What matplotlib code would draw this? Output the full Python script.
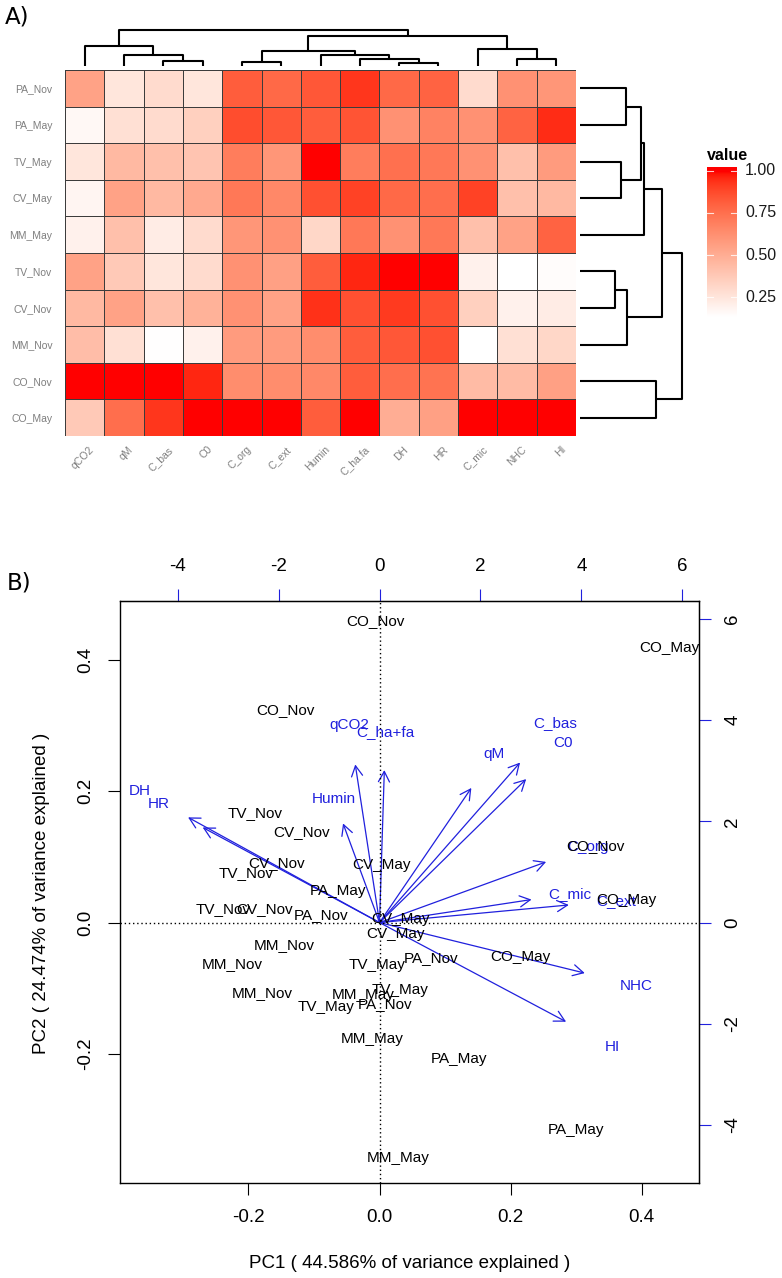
import numpy as np
import matplotlib
matplotlib.use('Agg')
from matplotlib import pyplot as plt
from matplotlib.colors import ListedColormap, Normalize
from matplotlib.patches import FancyArrowPatch
from matplotlib.transforms import offset_copy, blended_transform_factory

# ---------------- A) heatmap data ----------------
heat_rows = ['PA_Nov', 'PA_May', 'TV_May', 'CV_May', 'MM_May',
             'TV_Nov', 'CV_Nov', 'MM_Nov', 'CO_Nov', 'CO_May']
heat_cols = ['qCO2', 'qM', 'C_bas', 'C0', 'C_org', 'C_ext', 'Humin',
             'C_ha.fa', 'DH', 'HR', 'C_mic', 'NHC', 'HI']
heat_values = [
    [0.55, 0.25, 0.30, 0.25, 0.82, 0.78, 0.84, 0.93, 0.78, 0.80, 0.30, 0.62, 0.60],
    [0.17, 0.28, 0.30, 0.35, 0.87, 0.84, 0.82, 0.85, 0.62, 0.68, 0.62, 0.80, 0.95],
    [0.25, 0.45, 0.42, 0.40, 0.70, 0.60, 1.00, 0.70, 0.75, 0.72, 0.62, 0.42, 0.58],
    [0.18, 0.55, 0.45, 0.52, 0.72, 0.66, 0.86, 0.90, 0.78, 0.76, 0.90, 0.42, 0.45],
    [0.20, 0.42, 0.22, 0.30, 0.60, 0.62, 0.32, 0.72, 0.62, 0.72, 0.42, 0.55, 0.80],
    [0.55, 0.38, 0.25, 0.30, 0.62, 0.56, 0.82, 0.96, 1.00, 1.00, 0.20, 0.135, 0.15],
    [0.45, 0.55, 0.42, 0.48, 0.62, 0.55, 0.94, 0.86, 0.92, 0.86, 0.35, 0.20, 0.22],
    [0.43, 0.28, 0.14, 0.20, 0.58, 0.58, 0.64, 0.82, 0.84, 0.86, 0.135, 0.28, 0.32],
    [1.00, 1.00, 1.00, 0.96, 0.64, 0.64, 0.66, 0.82, 0.76, 0.74, 0.44, 0.44, 0.56],
    [0.38, 0.76, 0.93, 1.00, 1.00, 1.00, 0.82, 1.00, 0.50, 0.56, 1.00, 1.00, 1.00],
]
cbar_ticks = [0.25, 0.50, 0.75, 1.00]

# dendrograms: (left, right, height); ints refer to earlier merges
col_merges = [
    ('C_bas', 'C0', 0.50),
    ('qM', 0, 1.10),
    ('qCO2', 1, 2.00),
    ('DH', 'HR', 0.33),
    ('C_ha.fa', 3, 0.75),
    ('Humin', 4, 1.10),
    ('C_org', 'C_ext', 0.43),
    (6, 5, 1.53),
    ('NHC', 'HI', 0.67),
    ('C_mic', 8, 1.67),
    (7, 9, 3.00),
    (2, 10, 3.60),
]
row_merges = [
    ('PA_Nov', 'PA_May', 4.60),
    ('TV_May', 'CV_May', 4.13),
    (0, 1, 6.10),
    (2, 'MM_May', 6.37),
    ('TV_Nov', 'CV_Nov', 3.53),
    (4, 'MM_Nov', 4.73),
    (3, 5, 8.17),
    ('CO_Nov', 'CO_May', 7.60),
    (6, 7, 10.20),
]

# ---------------- B) PCA biplot data ----------------
obs_labels = ['CO_Nov', 'CO_Nov', 'CO_Nov', 'CO_May', 'CO_May', 'CO_May',
              'TV_Nov', 'TV_Nov', 'TV_Nov', 'CV_Nov', 'CV_Nov', 'CV_Nov',
              'CV_May', 'CV_May', 'CV_May', 'PA_May', 'PA_May', 'PA_May',
              'PA_Nov', 'PA_Nov', 'PA_Nov', 'MM_Nov', 'MM_Nov', 'MM_Nov',
              'MM_May', 'MM_May', 'MM_May', 'TV_May', 'TV_May', 'TV_May']
obs_pc1 = [-0.007, -0.144, 0.330, 0.442, 0.376, 0.215,
           -0.190, -0.204, -0.238, -0.119, -0.157, -0.176,
           0.003, 0.032, 0.025, -0.063, 0.122, 0.300,
           -0.089, 0.078, 0.008, -0.145, -0.224, -0.179,
           -0.025, -0.011, 0.029, -0.004, 0.031, -0.082]
obs_pc2 = [0.458, 0.323, 0.117, 0.417, 0.034, -0.052,
           0.166, 0.076, 0.021, 0.137, 0.090, 0.021,
           0.087, 0.006, -0.018, 0.048, -0.207, -0.315,
           0.012, -0.054, -0.124, -0.034, -0.063, -0.107,
           -0.110, -0.177, -0.358, -0.064, -0.102, -0.128]

var_labels = ['DH', 'HR', 'qCO2', 'C_ha+fa', 'Humin', 'qM', 'C_bas',
              'C0', 'C_org', 'C_mic', 'C_ext', 'NHC', 'HI']
var_pc1 = [-4.743, -4.381, -0.601, 0.119, -0.904, 2.275, 3.482,
           3.633, 4.127, 3.765, 4.689, 5.085, 4.622]
var_pc2 = [2.598, 2.349, 3.904, 3.765, 2.448, 3.324, 3.951,
           3.542, 1.498, 0.568, 0.435, -1.247, -2.448]

pc1_var = 44.586
pc2_var = 24.474
var_scale = 12.99   # top/right axis units per bottom/left unit

W, H = 782, 1278
plt.rcParams['font.family'] = ['Liberation Sans', 'DejaVu Sans']
plt.rcParams['axes.unicode_minus'] = False
fig = plt.figure(figsize=(W / 100, H / 100), dpi=100)


def px_axes(left, top, right, bottom):
    return fig.add_axes([left / W, 1 - bottom / H, (right - left) / W, (bottom - top) / H])


def lab_gradient(c0, c1, n=256):
    # interpolate two sRGB colours in CIELAB like ggplot does
    white = np.array([0.95047, 1.0, 1.08883])
    M = np.array([[0.4124, 0.3576, 0.1805], [0.2126, 0.7152, 0.0722], [0.0193, 0.1192, 0.9505]])

    def to_lab(c):
        c = np.asarray(c, float)
        lin = np.where(c <= 0.04045, c / 12.92, ((c + 0.055) / 1.055) ** 2.4)
        t = (M @ lin) / white
        f = np.where(t > (6 / 29) ** 3, np.cbrt(t), t / (3 * (6 / 29) ** 2) + 4 / 29)
        return np.array([116 * f[1] - 16, 500 * (f[0] - f[1]), 200 * (f[1] - f[2])])

    def to_rgb(lab):
        fy = (lab[0] + 16) / 116
        f = np.array([fy + lab[1] / 500, fy, fy - lab[2] / 200])
        t = np.where(f > 6 / 29, f ** 3, 3 * (6 / 29) ** 2 * (f - 4 / 29)) * white
        lin = np.linalg.solve(M, t)
        c = np.where(lin <= 0.0031308, 12.92 * lin, 1.055 * np.clip(lin, 0, None) ** (1 / 2.4) - 0.055)
        return np.clip(c, 0, 1)

    a, b = to_lab(c0), to_lab(c1)
    return ListedColormap([to_rgb(a + (b - a) * s) for s in np.linspace(0, 1, n)])


def dendro_coords(leaves, merges):
    pos = {name: (i + 0.5, 0.0) for i, name in enumerate(leaves)}
    segs = []
    for k, (a, b, h) in enumerate(merges):
        xa, ha = pos[a]
        xb, hb = pos[b]
        segs.append(([xa, xa, xb, xb], [ha, h, h, hb]))
        pos[k] = ((xa + xb) / 2, h)
    return segs


# ---------------- A) ----------------
vals = np.array(heat_values)
cmap = lab_gradient((1, 1, 1), (1, 0, 0))
norm = Normalize(vmin=vals.min(), vmax=vals.max())
grey = '#7f7f7f'

ax = px_axes(65, 70, 576, 436)
ax.pcolormesh(np.arange(len(heat_cols) + 1), np.arange(len(heat_rows) + 1), vals,
              cmap=cmap, norm=norm, edgecolors='#3c3c3c', linewidth=0.4)
ax.set_xlim(0, len(heat_cols))
ax.set_ylim(len(heat_rows), 0)
for s in ax.spines.values():
    s.set_visible(False)
ax.set_yticks(np.arange(len(heat_rows)) + 0.5)
ax.set_yticklabels(heat_rows, fontsize=7.5, color=grey)
ax.tick_params(axis='y', length=0, pad=9)
ax.set_xticks([])
lab_tr = offset_copy(ax.transData, fig=fig, x=3, y=-6, units='points')
for i, c in enumerate(heat_cols):
    ax.text(i + 0.5, len(heat_rows), c, transform=lab_tr, rotation=45, rotation_mode='anchor',
            ha='right', va='top', fontsize=7.5, color=grey)

axc = px_axes(65, 30, 576, 66)
for xs, ys in dendro_coords(heat_cols, col_merges):
    axc.plot(xs, ys, color='black', lw=1.5, clip_on=False, solid_capstyle='butt')
axc.set_xlim(0, len(heat_cols))
axc.set_ylim(0, col_merges[-1][2])
axc.axis('off')

axr = px_axes(580, 70, 682, 436)
for xs, ys in dendro_coords(heat_rows, row_merges):
    axr.plot(ys, xs, color='black', lw=1.5, clip_on=False, solid_capstyle='butt')
axr.set_ylim(len(heat_rows), 0)
axr.set_xlim(0, row_merges[-1][2])
axr.axis('off')

# colour bar
lo, hi = vals.min(), 1.024
cax = px_axes(707, 166.7, 737, 316.7)
grad = np.linspace(lo, hi, 300)[:, None]
cax.imshow(grad, extent=(0, 1, lo, hi), origin='lower', aspect='auto', cmap=cmap, norm=norm)
cax.set_xlim(0, 1)
cax.set_ylim(lo, hi)
cax.axis('off')
tr = blended_transform_factory(cax.transAxes, cax.transData)
for t in cbar_ticks:
    cax.plot([0, 0.2], [t, t], color='white', lw=0.8, alpha=0.8)
    cax.plot([0.8, 1], [t, t], color='white', lw=0.8, alpha=0.8)
    cax.text(1.27, t, '%.2f' % t, transform=tr, ha='left', va='center', fontsize=11.5, color='#1a1a1a')
fig.text(707 / W, 1 - 160 / H, 'value', fontsize=11.5, fontweight='bold', ha='left', va='baseline')

fig.text(5 / W, 1 - 17 / H, 'A)', fontsize=16.5, family='DejaVu Sans', ha='left', va='center')
fig.text(7 / W, 1 - 583 / H, 'B)', fontsize=16.5, family='DejaVu Sans', ha='left', va='center')

# ---------------- B) ----------------
blue = '#2020dd'
bx = px_axes(120, 601, 698.7, 1183)
bx.set_xlim(-0.396, 0.487)
bx.set_ylim(-0.396, 0.489)
bx.axhline(0, color='black', lw=1.0, ls=(0, (1, 2)))
bx.axvline(0, color='black', lw=1.0, ls=(0, (1, 2)))

for lab, x, y in zip(var_labels, var_pc1, var_pc2):
    xe, ye = 0.8 * x / var_scale, 0.8 * y / var_scale
    bx.add_patch(FancyArrowPatch((0, 0), (xe, ye), arrowstyle='->,head_length=0.75,head_width=0.4',
                                 mutation_scale=10, color=blue, lw=0.9, shrinkA=0, shrinkB=0))
    bx.text(x / var_scale, y / var_scale, lab, color=blue, fontsize=11, ha='center', va='center')

for lab, x, y in zip(obs_labels, obs_pc1, obs_pc2):
    bx.text(x, y, lab, color='black', fontsize=11, ha='center', va='center', clip_on=True)

bx.set_xticks([-0.2, 0.0, 0.2, 0.4])
bx.set_xticklabels(['-0.2', '0.0', '0.2', '0.4'])
bx.set_yticks([-0.2, 0.0, 0.2, 0.4])
bx.set_yticklabels(['-0.2', '0.0', '0.2', '0.4'], rotation=90, va='center')
bx.tick_params(direction='out', length=8.4, width=0.8, labelsize=13.5, pad=10)
for s in bx.spines.values():
    s.set_linewidth(1.0)

top = bx.secondary_xaxis('top', functions=(lambda v: v * var_scale, lambda v: v / var_scale))
top.set_xticks([-4, -2, 0, 2, 4, 6])
top.set_xticklabels(['-4', '-2', '0', '2', '4', '6'])
top.tick_params(direction='out', length=8.4, width=0.8, color=blue, labelsize=13.5, pad=10)
right = bx.secondary_yaxis('right', functions=(lambda v: v * var_scale, lambda v: v / var_scale))
right.set_yticks([-4, -2, 0, 2, 4, 6])
right.set_yticklabels(['-4', '-2', '0', '2', '4', '6'], rotation=90, va='center')
right.tick_params(direction='out', length=8.4, width=0.8, color=blue, labelsize=13.5, pad=10)

fig.text(409.5 / W, 1 - 1263 / H, 'PC1 ( %.3f%% of variance explained )' % pc1_var,
         fontsize=13.5, ha='center', va='center')
fig.text(41.7 / W, 1 - 893 / H, 'PC2 ( %.3f%% of variance explained )' % pc2_var,
         fontsize=13.5, ha='center', va='center', rotation=90)

fig.savefig('out.png', dpi=100)
